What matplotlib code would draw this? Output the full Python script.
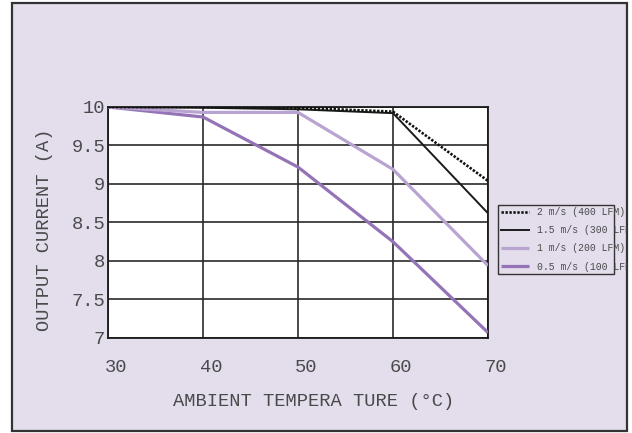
import matplotlib
matplotlib.use("Agg")
import matplotlib.pyplot as plt
import matplotlib.transforms as mtransforms
from matplotlib.patches import Rectangle

# derating data
temps = [30, 40, 50, 60, 70]
i_2ms = [10.0, 10.0, 9.99, 9.94, 9.04]
i_15ms = [10.0, 9.99, 9.97, 9.92, 8.62]
i_1ms = [10.0, 9.93, 9.93, 9.19, 7.94]
i_05ms = [10.0, 9.87, 9.22, 8.25, 7.07]
labels = ["2 m/s (400 LFM)", "1.5 m/s (300 LFM)", "1 m/s (200 LFM)", "0.5 m/s (100 LFM)"]
yticks = [7, 7.5, 8, 8.5, 9, 9.5, 10]
ytick_labels = ["7", "7.5", "8", "8.5", "9", "9.5", "10"]

W, H = 632, 433
bg = "#e3ddec"
txt = "#4a4a4a"
plt.rcParams['font.family'] = ['Liberation Mono', 'DejaVu Sans Mono']

fig = plt.figure(figsize=(W / 100, H / 100), dpi=100)
fig.patch.set_facecolor("white")
# lavender panel with dark border, kept behind the axes
panel = Rectangle((12 / W, 1 - 431 / H), 615 / W, 428 / H, transform=fig.transFigure,
                  facecolor=bg, edgecolor="#333333", linewidth=1.6, zorder=-5)
fig.patches.append(panel)

ax = fig.add_axes([108 / W, 1 - 338 / H, 380 / W, 231 / H])
ax.set_facecolor("white")

l4, = ax.plot(temps, i_05ms, color="#9474b6", lw=2.3, solid_capstyle="butt", zorder=3)
l3, = ax.plot(temps, i_1ms, color="#b9a3d1", lw=2.3, solid_capstyle="butt", zorder=3)
l2, = ax.plot(temps, i_15ms, color="#1a1a1a", lw=1.4, zorder=4)
l1, = ax.plot(temps, i_2ms, color="#111111", lw=1.9, linestyle=(0, (0.9, 0.6)), zorder=5)

ax.set_xlim(30, 70)
ax.set_ylim(7, 10)
ax.set_xticks(temps)
ax.set_yticks(yticks)
ax.set_yticklabels(ytick_labels)
ax.grid(True, color="#2a2a2a", lw=1.2)
ax.set_axisbelow(True)
ax.tick_params(length=0, labelsize=13.5, labelcolor=txt)
ax.tick_params(axis="x", pad=15)
ax.tick_params(axis="y", pad=2)
shift = mtransforms.ScaledTranslation(8 / 100, 0, fig.dpi_scale_trans)
for lab in ax.get_xticklabels():
    lab.set_transform(lab.get_transform() + shift)
for s in ax.spines.values():
    s.set_color("#1a1a1a")
    s.set_linewidth(1.3)

fig.text(314 / W, 1 - 402 / H, "AMBIENT TEMPERA TURE (\u00b0C)", ha="center", va="center",
         fontsize=13.5, color=txt)
fig.text(45 / W, 1 - 230 / H, "OUTPUT CURRENT (A)", ha="center", va="center",
         rotation=90, fontsize=13.5, color=txt)

# legend: box drawn separately so the long labels run past it as in the original
fig.patches.append(Rectangle((498 / W, 1 - 274 / H), 116 / W, 69 / H, transform=fig.transFigure,
                             facecolor=bg, edgecolor="#333333", linewidth=1.0, zorder=2))
leg = fig.legend([l1, l2, l3, l4], labels, loc="upper left",
                 bbox_to_anchor=(499 / W, 1 - 205 / H), frameon=False,
                 prop={"size": 7}, labelcolor=txt, handlelength=2.9, handletextpad=0.8,
                 labelspacing=0.85, borderpad=0.2, borderaxespad=0)
leg.set_zorder(3)
# the original cuts the long labels at the panel border
for t in leg.get_texts():
    t.set_clip_path(panel)

fig.savefig("out.png", dpi=100, facecolor="white")
